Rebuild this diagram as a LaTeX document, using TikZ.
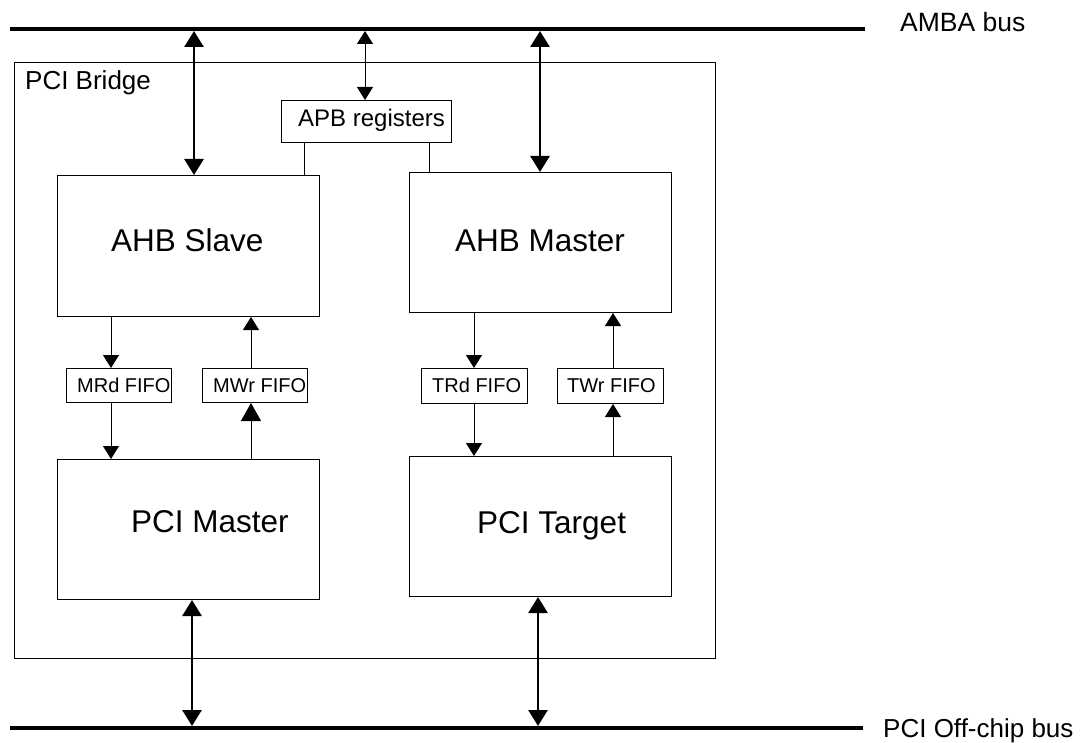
\documentclass[tikz,border=0pt]{standalone}
\usepackage{fontspec}
\setmainfont{Liberation Sans}
\usetikzlibrary{arrows.meta}
\begin{document}
\begin{tikzpicture}[x=1pt,y=-1pt,
  box/.style={draw=black,line width=1pt,rectangle,inner sep=0pt,anchor=north west},
  lbl/.style={inner sep=0pt,anchor=base west},
  bus/.style={line width=3.6pt},
  bigarrow/.style={line width=2.8pt,{Triangle[width=19pt,length=16pt]}-{Triangle[width=19pt,length=16pt]}},
  thinboth/.style={line width=1pt,{Triangle[width=16pt,length=13pt]}-{Triangle[width=16pt,length=13pt]}},
  thinarrow/.style={line width=1pt,-{Triangle[width=16pt,length=13pt]}},
  thinarrowbig/.style={line width=1pt,-{Triangle[width=20pt,length=18pt]}},
  plain/.style={line width=1pt}
]
\useasboundingbox (0,0) rectangle (1084,743);

% buses
\coordinate (ambaL) at (10,29);
\coordinate (ambaR) at (865,29);
\coordinate (pciL) at (10,728);
\coordinate (pciR) at (863,728);
\draw[bus] (ambaL) -- (ambaR);
\draw[bus] (pciL) -- (pciR);
\node[lbl,font=\fontsize{26.5}{30}\selectfont] (ambalbl) at (900,32) {AMBA bus};
\node[lbl,font=\fontsize{26}{30}\selectfont] (pcilbl) at (883,737) {PCI Off-chip bus};

% boxes
\node[box,minimum width=701pt,minimum height=596pt] (bridge) at (14,62) {};
\node[box,minimum width=170pt,minimum height=42pt] (apb) at (281,100) {};
\node[box,minimum width=262pt,minimum height=141pt] (ahbs) at (57,175) {};
\node[box,minimum width=262pt,minimum height=140pt] (ahbm) at (409,172) {};
\node[box,minimum width=262pt,minimum height=140pt] (pcim) at (57,459) {};
\node[box,minimum width=262pt,minimum height=140pt] (pcit) at (409,456) {};
\node[box,minimum width=105pt,minimum height=34pt] (mrd) at (66,368) {};
\node[box,minimum width=105pt,minimum height=34pt] (mwr) at (202,368) {};
\node[box,minimum width=106pt,minimum height=35pt] (trd) at (421,368) {};
\node[box,minimum width=106pt,minimum height=35pt] (twr) at (557,368) {};

% labels
\node[lbl,font=\fontsize{26}{30}\selectfont] (bridgelbl) at (25,90) {PCI Bridge};
\node[lbl,font=\fontsize{24}{28}\selectfont] (apblbl) at (298,127) {APB registers};
\node[lbl,font=\fontsize{31.5}{36}\selectfont] (ahbslbl) at (111,252) {AHB Slave};
\node[lbl,font=\fontsize{31.5}{36}\selectfont] (ahbmlbl) at (455,252) {AHB Master};
\node[lbl,font=\fontsize{31.5}{36}\selectfont] (pcimlbl) at (131,532) {PCI Master};
\node[lbl,font=\fontsize{31.5}{36}\selectfont] (pcitlbl) at (477,533) {PCI Target};
\node[lbl,font=\fontsize{20}{24}\selectfont] (mrdlbl) at (77,392) {MRd FIFO};
\node[lbl,font=\fontsize{20}{24}\selectfont] (mwrlbl) at (213,392) {MWr FIFO};
\node[lbl,font=\fontsize{20}{24}\selectfont] (trdlbl) at (432,392) {TRd FIFO};
\node[lbl,font=\fontsize{20}{24}\selectfont] (twrlbl) at (567,392) {TWr FIFO};

% AMBA bus connections
\coordinate (t1) at (194,31);
\coordinate (t2) at (365,31);
\coordinate (t3) at (540,31);
\draw[bigarrow] (t1) -- (t1 |- ahbs.north);
\draw[thinboth] (t2) -- (t2 |- apb.north);
\draw[bigarrow] (t3) -- (t3 |- ahbm.north);

% APB register links
\coordinate (r1) at ([xshift=23pt]apb.south west);
\coordinate (r2) at ([xshift=148pt]apb.south west);
\draw[plain] (r1) -- (r1 |- ahbs.north);
\draw[plain] (r2) -- (r2 |- ahbm.north);

% FIFO paths (slave/master side)
\coordinate (f1) at ([xshift=45pt]mrd.north west);
\coordinate (f1b) at ([xshift=45pt]mrd.south west);
\draw[thinarrow] (f1 |- ahbs.south) -- (f1);
\draw[thinarrow] (f1b) -- (f1b |- pcim.north);
\coordinate (f2) at ([xshift=49pt]mwr.north west);
\coordinate (f2b) at ([xshift=49pt]mwr.south west);
\draw[thinarrow] (f2) -- (f2 |- ahbs.south);
\draw[thinarrowbig] (f2b |- pcim.north) -- (f2b);

\coordinate (f3) at ([xshift=53pt]trd.north west);
\coordinate (f3b) at ([xshift=53pt]trd.south west);
\draw[thinarrow] (f3 |- ahbm.south) -- (f3);
\draw[thinarrow] (f3b) -- (f3b |- pcit.north);
\coordinate (f4) at ([xshift=56pt]twr.north west);
\coordinate (f4b) at ([xshift=56pt]twr.south west);
\draw[thinarrow] (f4) -- (f4 |- ahbm.south);
\draw[thinarrow] (f4b |- pcit.north) -- (f4b);

% PCI bus connections
\coordinate (b1) at (192,726);
\coordinate (b2) at (538,726);
\draw[bigarrow] (b1 |- pcim.south) -- (b1);
\draw[bigarrow] (b2 |- pcit.south) -- (b2);
\end{tikzpicture}
\end{document}
